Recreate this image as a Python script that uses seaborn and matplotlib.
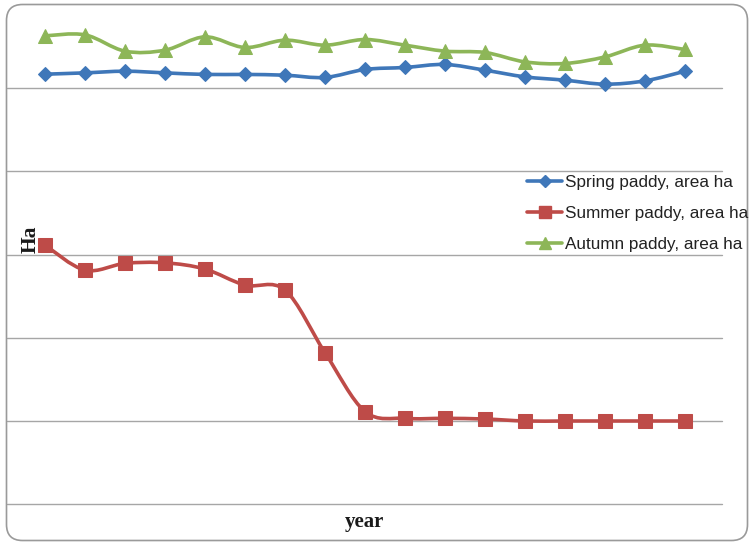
import matplotlib
matplotlib.use("Agg")
import matplotlib.pyplot as plt
import numpy as np
import pandas as pd
import seaborn as sns
from matplotlib.path import Path
from matplotlib.patches import PathPatch, FancyBboxPatch
from matplotlib.lines import Line2D

# Paddy area by year (units of 10,000 ha); 17 consecutive years
years = list(range(1, 18))
spring = [5.168, 5.184, 5.204, 5.184, 5.165, 5.165, 5.156, 5.129, 5.225,
          5.249, 5.285, 5.216, 5.136, 5.096, 5.048, 5.088, 5.204]
summer = [3.113, 2.812, 2.893, 2.900, 2.825, 2.632, 2.572, 1.819, 1.112,
          1.030, 1.030, 1.022, 0.998, 0.998, 0.998, 0.998, 0.998]
autumn = [5.629, 5.641, 5.445, 5.457, 5.617, 5.489, 5.577, 5.517, 5.585,
          5.517, 5.445, 5.429, 5.316, 5.297, 5.376, 5.517, 5.465]

labels = ["Spring paddy, area ha", "Summer paddy, area ha", "Autumn paddy, area ha"]
colors = ["#3F77B9", "#BE4B48", "#8DB658"]
markers = ["D", "s", "^"]
msizes = [7.0, 9.6, 10.5]

df = pd.DataFrame({"idx": np.arange(len(years)), "year": years,
                   labels[0]: spring, labels[1]: summer, labels[2]: autumn})

sns.set_theme(style="white")

W, H = 752, 543
fig = plt.figure(figsize=(W / 100, H / 100), dpi=100)
fig.patch.set_facecolor("white")
ax = fig.add_axes([7 / W, 39 / H, 715 / W, 499 / H])
ax.set_facecolor("none")


def smooth_path(xs, ys):
    """Catmull-Rom style cubic Bezier through the points."""
    pts = np.column_stack([xs, ys]).astype(float)
    n = len(pts)
    verts = [pts[0]]
    codes = [Path.MOVETO]
    for i in range(n - 1):
        p0 = pts[i - 1] if i > 0 else pts[i]
        p1 = pts[i]
        p2 = pts[i + 1]
        p3 = pts[i + 2] if i + 2 < n else pts[i + 1]
        c1 = p1 + (p2 - p0) / 6.0
        c2 = p2 - (p3 - p1) / 6.0
        verts += [c1, c2, p2]
        codes += [Path.CURVE4] * 3
    return Path(verts, codes)


handles = []
for lab, col, mk, ms in zip(labels, colors, markers, msizes):
    patch = PathPatch(smooth_path(df["idx"], df[lab]), facecolor="none",
                      edgecolor=col, linewidth=2.6, capstyle="round", zorder=2)
    ax.add_patch(patch)
    sns.lineplot(data=df, x="idx", y=lab, ax=ax, color=col, marker=mk,
                 markersize=ms, markeredgecolor=col, linewidth=0, zorder=3)
    handles.append(Line2D([], [], color=col, linewidth=2.6, marker=mk,
                          markersize=ms * 0.85, markeredgecolor=col))

ax.set_xlim(-(45 - 7) / 40, (722 - 45) / 40)
ax.set_ylim(0, 6)
ax.set_yticks([0, 1, 2, 3, 4, 5])
ax.set_xticks([])
ax.set_yticklabels([])
ax.tick_params(length=0)
ax.yaxis.grid(True, color="#A6A6A6", linewidth=1.0)
for gl in ax.get_ygridlines():
    gl.set_clip_on(False)
for s in ax.spines.values():
    s.set_visible(False)

ax.set_xlabel("year", family="Liberation Serif", fontweight="bold",
              fontsize=15, color="#1a1a1a", labelpad=6)
ax.set_ylabel("")
fig.text(31 / W, 1 - 239 / H, "Ha", family="Liberation Serif",
         fontweight="bold", fontsize=15.5, color="#1a1a1a", rotation=90,
         ha="center", va="center")

fig.legend(handles=handles, labels=labels, loc="upper left",
           bbox_to_anchor=(527 / W, 1 - 175 / H), frameon=False,
           borderpad=0, borderaxespad=0, handlelength=2.05,
           handletextpad=0.2, labelspacing=0.95,
           prop={"family": "Liberation Sans", "size": 12.3},
           labelcolor="#222222")

border = FancyBboxPatch((6.5, 2.5), 741, 536,
                        boxstyle="round,pad=0,rounding_size=16",
                        transform=None, facecolor="none",
                        edgecolor="#9A9A9A", linewidth=1.2)
fig.patches.append(border)

fig.savefig("out.png", dpi=100)
